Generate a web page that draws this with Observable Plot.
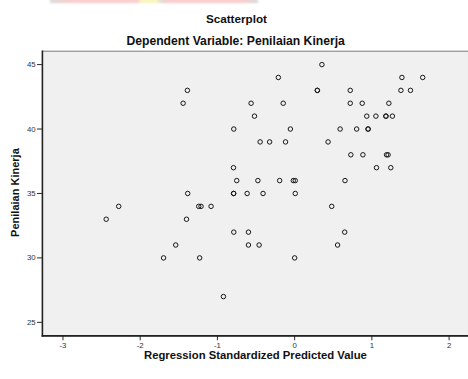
<!DOCTYPE html>
<html>
<head>
<meta charset="utf-8">
<script src="https://cdn.jsdelivr.net/npm/d3@7"></script>
<script src="https://cdn.jsdelivr.net/npm/@observablehq/plot@0.6"></script>
<style>
  html, body { margin: 0; padding: 0; background: #fff; }
  #wrap { position: relative; width: 468px; height: 379px; overflow: hidden; background: #fff; }
  #wrap svg { position: absolute; left: 0; top: 0; }
  #band { position: absolute; left: 50px; top: -1px; width: 208px; height: 4px; filter: blur(1px); opacity: 0.55;
    background: linear-gradient(90deg, #bbb 0%, #f3a0a0 10%, #f3a0a0 42%, #f5f080 44%, #f5f080 51%, #bbb 54%, #f3a0a0 56%, #f3a0a0 93%, #bbb 100%); }
</style>
</head>
<body>
<div id="wrap"><div id="band"></div></div>
<script>
// Regression standardized predicted value (x) and Penilaian Kinerja (y)
const predicted = [
  0.353,
  -0.211, 1.389, 1.658,
  -1.389, 0.294, 0.294, 0.72, 1.376, 1.5,
  -1.444, -0.564, -0.148, 0.72, 0.875, 1.22,
  -0.52, 0.934, 1.052, 1.182, 1.182, 1.266,
  -0.788, -0.055, 0.589, 0.803, 0.951, 0.951,
  -0.447, -0.324, -0.118, 0.433,
  0.728, 0.884, 1.19, 1.21,
  -0.792, 1.06, 1.245,
  -0.75, -0.476, -0.194, -0.017, 0.008, 0.652,
  -1.385, -0.79, -0.79, -0.615, -0.409, 0.008,
  -2.278, -1.242, -1.212, -1.082, 0.48,
  -2.44, -1.40,
  -0.788, -0.598, 0.648,
  -1.54, -0.598, -0.46, 0.556,
  -1.697, -1.23, 0.0,
  -0.922
];
const kinerja = [
  45,
  44, 44, 44,
  43, 43, 43, 43, 43, 43,
  42, 42, 42, 42, 42, 42,
  41, 41, 41, 41, 41, 41,
  40, 40, 40, 40, 40, 40,
  39, 39, 39, 39,
  38, 38, 38, 38,
  37, 37, 37,
  36, 36, 36, 36, 36, 36,
  35, 35, 35, 35, 35, 35,
  34, 34, 34, 34, 34,
  33, 33,
  32, 32, 32,
  31, 31, 31, 31,
  30, 30, 30,
  27
];
const xTicks = [-3, -2, -1, 0, 1, 2];
const yTicks = [25, 30, 35, 40, 45];
const titleText = "Scatterplot";
const subtitleText = "Dependent Variable: Penilaian Kinerja";
const xLabel = "Regression Standardized Predicted Value";
const yLabel = "Penilaian Kinerja";

const points = predicted.map((x, i) => ({x, y: kinerja[i]}));

const font = "'Liberation Sans', Arial, Helvetica, sans-serif";
const chart = Plot.plot({
  width: 480,
  height: 379,
  marginLeft: 43,
  marginRight: 0,
  marginTop: 52,
  marginBottom: 35,
  style: {fontFamily: font, fontSize: "8px", background: "transparent", color: "#333"},
  x: {domain: [-3.266, 2.251], label: null},
  y: {domain: [23.95, 46.04], label: null},
  marks: [
    Plot.frame({fill: "#f0f0f0", stroke: "#777", strokeWidth: 1}),
    Plot.axisX({ticks: xTicks, tickSize: 5, tickPadding: 2, tickFormat: d => String(d), stroke: "#222", fill: "#333", label: null}),
    Plot.axisY({ticks: yTicks, tickSize: 5, tickPadding: 2, tickFormat: d => String(d), stroke: "#222", fill: "#333", label: null}),
    Plot.frame({anchor: "left", stroke: "#222", strokeWidth: 1.6}),
    Plot.frame({anchor: "bottom", stroke: "#222", strokeWidth: 1.6}),
    Plot.dot(points, {x: "x", y: "y", r: 2.3, stroke: "#111", strokeWidth: 1, fill: "none"})
  ]
});
document.getElementById("wrap").appendChild(chart);

const svg = d3.select(chart);
const addText = (txt, x, y, size, rotate) => {
  const t = svg.append("text")
    .attr("text-anchor", "middle")
    .attr("font-family", font)
    .attr("font-weight", "bold")
    .attr("font-size", size)
    .attr("fill", "#111")
    .text(txt);
  if (rotate) t.attr("transform", `translate(${x},${y}) rotate(-90)`);
  else t.attr("x", x).attr("y", y);
};
addText(titleText, 242.5, 23.3, "12px");
addText(subtitleText, 241.7, 46, "12.5px");
addText(xLabel, 262, 368.5, "11.6px");
addText(yLabel, 19.5, 197.5, "11.3px", true);
</script>
</body>
</html>
